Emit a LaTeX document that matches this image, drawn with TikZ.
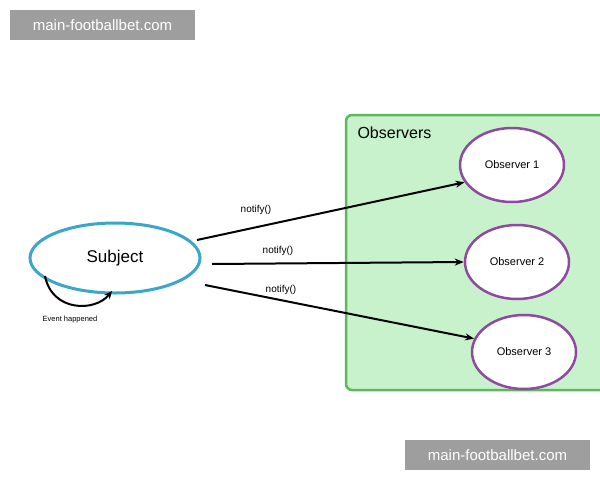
\documentclass[tikz,border=0pt]{standalone}
\usepackage{fontspec}
\setmainfont{Liberation Sans}
\begin{document}
\begin{tikzpicture}[x=1pt,y=-1pt,
  obs/.style={line width=2.5pt,fill=white,ellipse,minimum width=104pt,minimum height=74pt,font=\fontsize{11}{13}\selectfont},
  arr/.style={line width=2pt,-{Stealth[length=9pt,width=7pt]}},
  lab/.style={font=\fontsize{10}{12}\selectfont},
  wm/.style={fill=black!38,text=white,font=\fontsize{15}{17}\selectfont,minimum width=185pt,minimum height=30pt,inner sep=0pt}]
\usetikzlibrary{shapes.geometric,arrows.meta}
\useasboundingbox (0,0) rectangle (600,480);
\fill[white] (0,0) rectangle (600,480);
\draw[draw={rgb,255:red,93;green,184;blue,93},fill={rgb,255:red,200;green,242;blue,204},line width=2.5pt,rounded corners=6pt] (346,115) rectangle (612,390);
\node[font=\fontsize{16}{18}\selectfont,anchor=west] (ot) at (354,133) {Observers};
\node[draw={rgb,255:red,58;green,166;blue,201},line width=3pt,fill=white,ellipse,minimum width=170pt,minimum height=70pt,font=\fontsize{17}{19}\selectfont] (s) at (115,258) {Subject};
\node[obs,draw={rgb,255:red,142;green,74;blue,158}] (o1) at (512,165) {Observer 1};
\node[obs,draw={rgb,255:red,142;green,74;blue,158}] (o2) at (517,262) {Observer 2};
\node[obs,draw={rgb,255:red,142;green,74;blue,158}] (o3) at (524,352) {Observer 3};
\coordinate (a1) at (197,240); \coordinate (a2) at (212,264); \coordinate (a3) at (205,285);
\draw[arr] (a1) -- (o1.200);
\draw[arr] (a2) -- (o2.west);
\draw[arr] (a3) -- (o3.165);
\node[lab] (n1) at (256,210) {notify()};
\node[lab] (n2) at (278,251) {notify()};
\node[lab] (n3) at (281,290) {notify()};
\coordinate (l1) at (45,276);
\coordinate (l2) at (112,291);
\draw[line width=2pt,-{Stealth[length=8pt,width=7pt]}] (l1) .. controls (52,312) and (95,312) .. (l2);
\node[font=\fontsize{7.5}{9}\selectfont] (ev) at (70,320) {Event happened};
\node[wm] (w1) at (102.5,25) {main-footballbet.com};
\node[wm] (w2) at (497.5,455) {main-footballbet.com};
\end{tikzpicture}
\end{document}
